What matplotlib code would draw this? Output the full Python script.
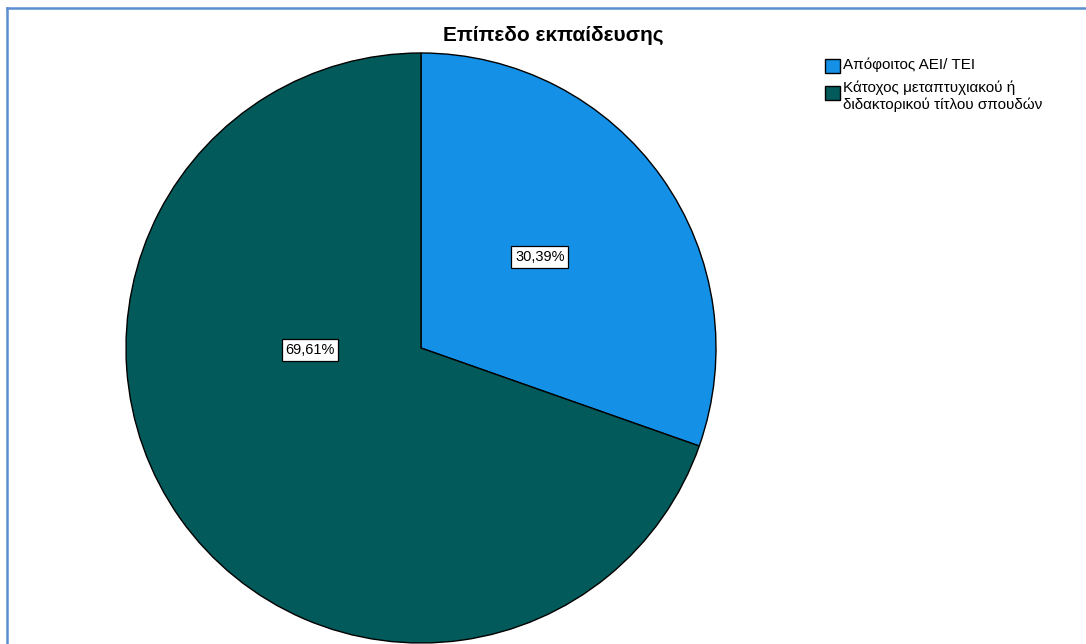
import matplotlib
matplotlib.use("Agg")
import matplotlib.pyplot as plt
from matplotlib.patches import Rectangle
from matplotlib.lines import Line2D

title = "Επίπεδο εκπαίδευσης"
categories = ["Απόφοιτος ΑΕΙ/ ΤΕΙ", "Κάτοχος μεταπτυχιακού ή\nδιδακτορικού τίτλου σπουδών"]
values = [30.39, 69.61]
colors = ["#1491e6", "#035a5a"]
label_pos = [(0.403, 0.308), (-0.376, -0.007)]

plt.rcParams['font.family'] = ['Liberation Sans', 'DejaVu Sans']

W, H = 1086, 644
fig = plt.figure(figsize=(W / 100, H / 100), dpi=100)
fig.patch.set_facecolor("white")

cx, cy, r = 421, 348, 295
ax = fig.add_axes([(cx - r) / W, (H - cy - r) / H, 2 * r / W, 2 * r / H])

wedges, texts, autotexts = ax.pie(
    values, colors=colors, startangle=90, counterclock=False, radius=1,
    wedgeprops=dict(edgecolor="black", linewidth=1.0),
    autopct=lambda p: f"{p:.2f}%".replace(".", ","), pctdistance=0.5,
    textprops=dict(fontsize=10.5, color="black"))
ax.set_xlim(-1, 1)
ax.set_ylim(-1, 1)
ax.set_aspect("equal")
ax.axis("off")
for t, pos in zip(autotexts, label_pos):
    t.set_position(pos)
    t.set_ha("center")
    t.set_va("center")
    t.set_bbox(dict(facecolor="white", edgecolor="black", linewidth=0.9,
                    boxstyle="square,pad=0.25"))
for w in wedges:
    w.set_clip_on(False)

fig.text(553 / W, 1 - 35 / H, title, ha="center", va="center", fontsize=15, fontweight="bold")

# legend
text_ys = [65, 96]
patch_ys = [65.5, 93]
for cat, col, ty, py in zip(categories, colors, text_ys, patch_ys):
    fig.patches.append(Rectangle((825 / W, 1 - (py + 7) / H), 15 / W, 14 / H,
                                 transform=fig.transFigure, facecolor=col,
                                 edgecolor="black", linewidth=1.0))
    fig.text(843 / W, 1 - ty / H, cat, ha="left", va="center", fontsize=11, linespacing=1.2)

# frame lines
fig.add_artist(Line2D([6.5 / W, 6.5 / W], [0, 1 - 7.5 / H], transform=fig.transFigure,
                      color="#5b8fd0", linewidth=1.8))
fig.add_artist(Line2D([6.5 / W, 1], [1 - 7.5 / H, 1 - 7.5 / H], transform=fig.transFigure,
                      color="#5b8fd0", linewidth=1.8))

fig.savefig("out.png", dpi=100, facecolor="white")
